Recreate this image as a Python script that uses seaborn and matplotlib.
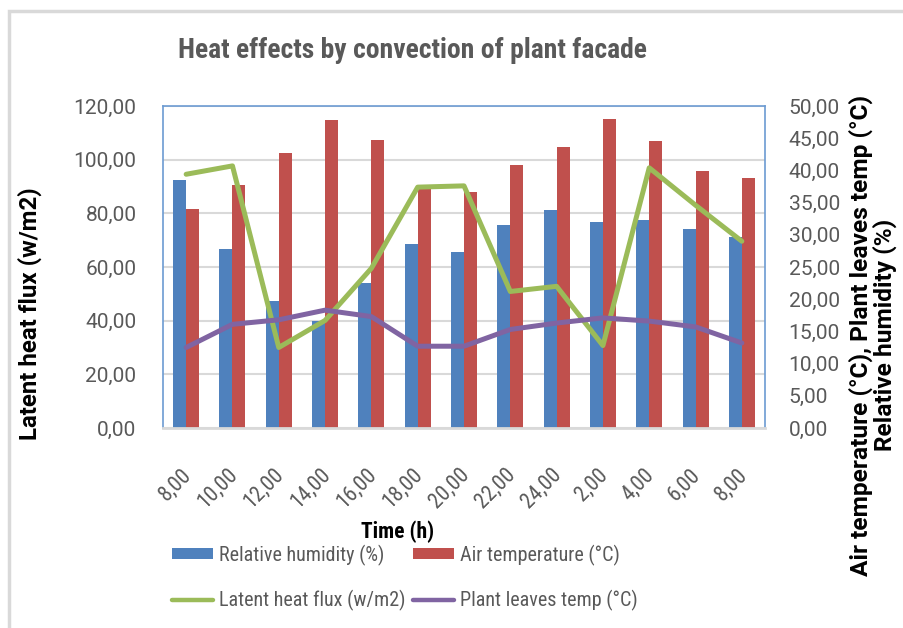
import matplotlib
matplotlib.use("Agg")
import matplotlib.pyplot as plt
import seaborn as sns
import pandas as pd
import numpy as np
from matplotlib.patches import Patch, Rectangle
from matplotlib.lines import Line2D
from matplotlib.transforms import ScaledTranslation

times = ["8,00", "10,00", "12,00", "14,00", "16,00", "18,00", "20,00",
         "22,00", "24,00", "2,00", "4,00", "6,00", "8,00"]
relative_humidity = [92.4, 66.7, 47.3, 40.0, 54.2, 68.6, 65.6, 75.7, 81.2, 76.8, 77.5, 74.2, 71.2]
air_temperature = [81.6, 90.6, 102.6, 114.8, 107.3, 88.9, 88.0, 98.0, 104.7, 115.2, 107.0, 95.8, 93.2]
latent_heat_flux = [39.4, 40.7, 12.5, 16.7, 24.8, 37.4, 37.6, 21.2, 22.0, 12.8, 40.4, 34.6, 29.0]
plant_leaves_temp = [12.5, 16.1, 16.8, 18.3, 17.3, 12.7, 12.7, 15.3, 16.3, 17.1, 16.6, 15.7, 13.2]

left_ticks = [0, 20, 40, 60, 80, 100, 120]
right_ticks = [0, 5, 10, 15, 20, 25, 30, 35, 40, 45, 50]

BLUE = "#4F81BD"
RED = "#C0504D"
GREEN = "#9BBB59"
PURPLE = "#8064A2"
GRAY_TXT = "#595959"

sns.set_style("white")
NARROW = ["Liberation Sans Narrow", "Arial Narrow", "Roboto Condensed",
          "DejaVu Sans Condensed", "Liberation Sans", "DejaVu Sans"]
ROBOTO = ["Roboto", "DejaVu Sans"]
plt.rcParams["font.family"] = NARROW

W, H = 904, 628
fig = plt.figure(figsize=(W / 100, H / 100), dpi=100)
renderer = fig.canvas.get_renderer()


def text_width(s, size, family, weight="normal"):
    t = fig.text(0, 0, s, fontsize=size, family=family, fontweight=weight)
    w = t.get_window_extent(renderer).width
    t.remove()
    return w


def fit(s, target_px, family, weight="normal", ref=20.0):
    return ref * target_px / text_width(s, ref, family, weight)


def fx(px):
    return px / W


def fy(py):
    return 1 - py / H


ax = fig.add_axes([fx(163), fy(428), fx(765 - 163), (428 - 106) / H])

n = len(times)
idx = list(range(n))
df_bars = pd.DataFrame({
    "pos": idx * 2,
    "value": relative_humidity + air_temperature,
    "series": ["Relative humidity (%)"] * n + ["Air temperature (°C)"] * n,
})
sns.barplot(data=df_bars, x="pos", y="value", hue="series",
            palette=[BLUE, RED], width=0.56, ax=ax, legend=False,
            saturation=1, edgecolor="none")

tick_size = fit("120,00", 63, ROBOTO)
xtick_size = fit("10,00", 47, NARROW)

ax.set_ylim(0, 120)
ax.set_xlim(-0.5, n - 0.5)
ax.set_yticks(left_ticks)
ax.set_yticklabels([f"{v:.2f}".replace(".", ",") for v in left_ticks],
                   color=GRAY_TXT, fontsize=tick_size, family=ROBOTO)
ax.set_xticks(idx)
ax.set_xticklabels(times, rotation=45, ha="right", rotation_mode="anchor",
                   color=GRAY_TXT, fontsize=xtick_size, family=NARROW)
ax.tick_params(axis="x", length=0, pad=26)
for lab in ax.get_xticklabels():
    lab.set_transform(lab.get_transform() + ScaledTranslation(-4 / 72, 0, fig.dpi_scale_trans))
ax.tick_params(axis="y", length=0, pad=19)
ax.set_xticks(np.arange(-0.5, n, 1.0), minor=True)
ax.tick_params(axis="x", which="minor", direction="in", length=7, width=1.5, color="#D9D9D9")
ax.set_xlabel("")
ax.set_ylabel("")
ax.yaxis.grid(True, color="#D9D9D9", linewidth=1.5)
ax.set_axisbelow(True)
for s in ["left", "top", "right"]:
    ax.spines[s].set_color("#6C9BD2")
    ax.spines[s].set_linewidth(1.2)
ax.spines["bottom"].set_color("#D9D9D9")
ax.spines["bottom"].set_linewidth(2)

ax2 = ax.twinx()
sns.lineplot(x=idx, y=latent_heat_flux, ax=ax2, color=GREEN, linewidth=3.6, legend=False)
sns.lineplot(x=idx, y=plant_leaves_temp, ax=ax2, color=PURPLE, linewidth=3.6, legend=False)
ax2.set_ylim(0, 50)
ax2.set_xlim(-0.5, n - 0.5)
ax2.set_yticks(right_ticks)
ax2.set_yticklabels([f"{v:.2f}".replace(".", ",") for v in right_ticks],
                    color=GRAY_TXT, fontsize=tick_size, family=ROBOTO)
ax2.tick_params(axis="y", length=0, pad=17)
for s in ax2.spines.values():
    s.set_visible(False)
ax2.set_ylabel("")

title = "Heat effects by convection of plant facade"
fig.text(fx(412), fy(51), title, ha="center", va="center",
         fontsize=fit(title, 469, NARROW, "bold"), fontweight="bold",
         color=GRAY_TXT, family=NARROW)

ylab = "Latent heat flux (w/m2)"
fig.text(fx(30), fy(314), ylab, rotation=90, ha="center", va="center",
         fontsize=fit(ylab, 252, ROBOTO, "bold"), fontweight="bold",
         color="black", family=ROBOTO)

r1 = "Air temperature (°C), Plant leaves temp (°C)"
r2 = "Relative humidity (%)"
fig.text(fx(873), fy(335), r1 + "\n" + r2,
         rotation=90, ha="center", va="center", multialignment="center",
         fontsize=fit(r1, 480, ROBOTO, "bold"), fontweight="bold",
         color="black", family=ROBOTO, linespacing=1.0)

xl = "Time (h)"
fig.text(fx(398), fy(532), xl, ha="center", va="center",
         fontsize=fit(xl, 73, NARROW, "bold"), fontweight="bold",
         color="black", family=NARROW)

legend_items = [
    (Patch(facecolor=BLUE, edgecolor="none"), "Relative humidity (%)", 172, 555, 167),
    (Patch(facecolor=RED, edgecolor="none"), "Air temperature (°C)", 413, 555, 162),
    (Line2D([0], [0], color=GREEN, linewidth=3.2), "Latent heat flux (w/m2)", 172, 600, 187),
    (Line2D([0], [0], color=PURPLE, linewidth=3.2), "Plant leaves temp (°C)", 413, 600, 173),
]
sizes = [fit(lbl, tw, NARROW) for (_, lbl, _, _, tw) in legend_items]
leg_size = float(np.mean(sizes))
fs_px = leg_size * 100 / 72
for h, lbl, x0, y0, _ in legend_items:
    lg = fig.legend([h], [lbl], loc="center left",
                    bbox_to_anchor=(fx(x0), fy(y0)), frameon=False,
                    fontsize=leg_size, handlelength=41 / fs_px, handleheight=0.45,
                    handletextpad=6 / fs_px, borderpad=0, borderaxespad=0)
    for t in lg.get_texts():
        t.set_color(GRAY_TXT)
        t.set_family(NARROW)

fig.patches.append(Rectangle((fx(9), -20 / H), (W + 20 - 9) / W, (H + 9) / H,
                             transform=fig.transFigure, fill=False,
                             edgecolor="#D9D9D9", linewidth=2.5))

fig.savefig("out.png", dpi=100, facecolor="white")
